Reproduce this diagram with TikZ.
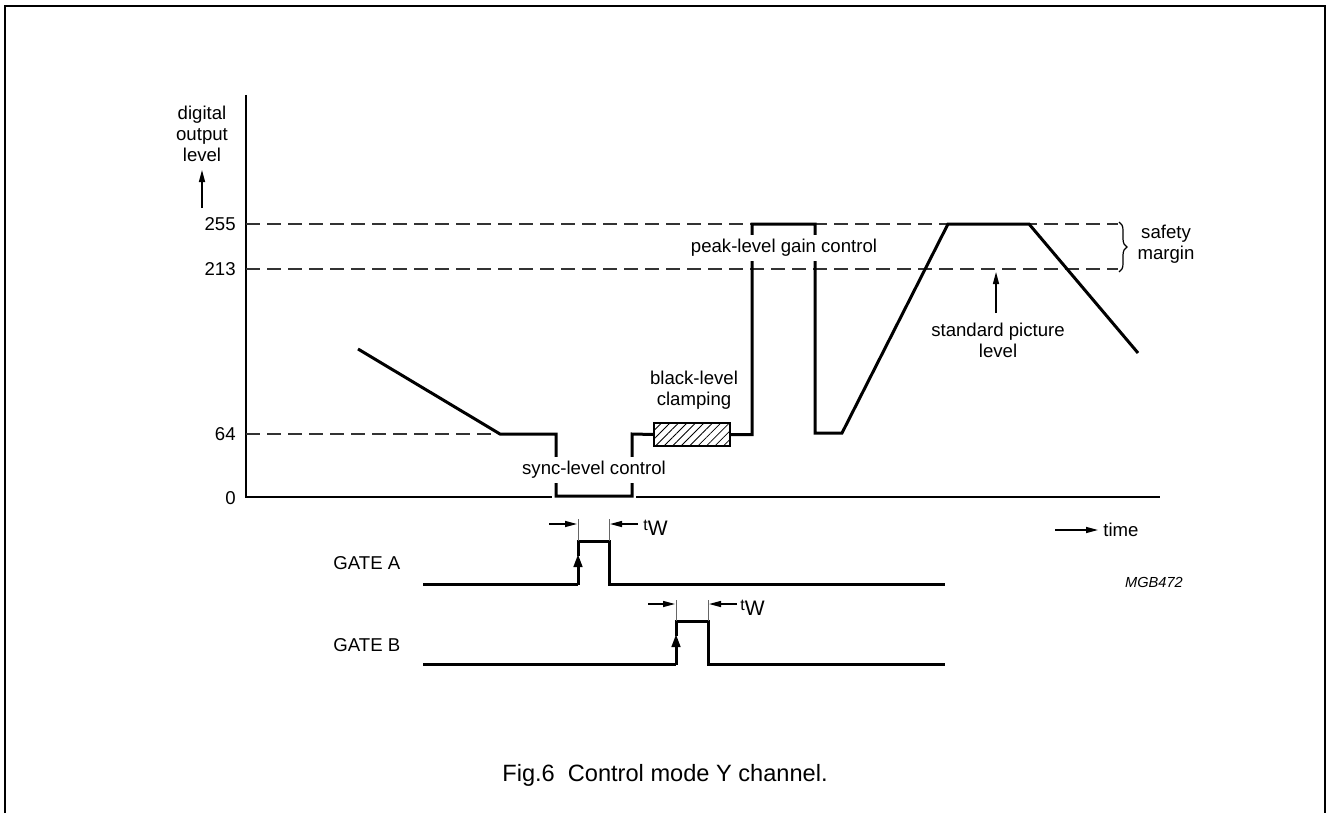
\documentclass[tikz,border=0pt]{standalone}
\usepackage{fontspec}
\setmainfont{Liberation Sans}
\usetikzlibrary{arrows.meta,decorations.pathreplacing,patterns.meta}

\begin{document}
\begin{tikzpicture}[x=0.5pt,y=-0.5pt,
  every node/.style={font=\fontsize{9.3}{10.5}\selectfont,inner sep=0pt},
  frame/.style={line width=1pt},
  axis/.style={line width=1pt},
  level/.style={line width=0.7pt,black!80,dash pattern=on 7pt off 3.5pt},
  signal/.style={line width=1.5pt,line join=miter},
  gatetick/.style={line width=0.5pt,black!60},
  tip/.style={-{Triangle[length=6pt,width=3pt]}},
  edgetip/.style={-{Triangle[length=6.5pt,width=4.2pt]}},
  cut/.style={fill=white,inner sep=2pt},
  clampbox/.style={draw,line width=1pt,minimum width=38pt,minimum height=11.5pt,
    pattern={Lines[angle=45,distance=3pt,line width=0.4pt]}}]

  \useasboundingbox (0,0) rectangle (1326,813);
  % open frame round the figure
  \draw[frame] (5,813) -- (5,6) -- (1325,6) -- (1325,813);

  % axes
  \draw[axis] (246,95) -- (246,497) -- (552,497);
  \draw[axis] (636,497) -- (1160,497);
  \node[align=center] (ylabel) at (202,134) {digital\\output\\level};
  \coordinate (yarrowfoot) at (202,208);
  \coordinate (yarrowtip) at (202,170);
  \draw[tip,line width=0.7pt] (yarrowfoot) -- (yarrowtip);

  % level marks and dashed references
  \node[anchor=east] (l255) at (236,224) {255};
  \node[anchor=east] (l213) at (236,269) {213};
  \node[anchor=east] (l64) at (236,434) {64};
  \node[anchor=east] (l0) at (236,498) {0};
  \draw[level] (246,224) -- (1118,224);
  \draw[level] (246,269) -- (1118,269);
  \draw[level] (246,434) -- (500,434);

  % safety margin brace
  \draw[line width=0.6pt,decorate,decoration={brace,amplitude=4pt}] (1119,222) -- (1119,272);
  \node[align=center] (safety) at (1166,244) {safety\\margin};

  % the video signal
  \node[clampbox] (clamp) at (692,434.5) {};
  \draw[signal] (358,349) -- (500,434) -- (556,434) -- (556,496) -- (632,496) -- (632,434) -- (clamp.west);
  \draw[signal] (clamp.east) -- (752,434.5) -- (752,224) -- (815,224) -- (815,433) -- (842,433)
    -- (948,224) -- (1029,224) -- (1138,353);

  % signal labels
  \node[cut] (sync) at (594,470) {sync-level control};
  \node[cut] (peak) at (784,248) {peak-level gain control};
  \node[align=center] (black) at (694,390) {black-level\\clamping};
  \node[align=center] (standard) at (998,340) {standard picture\\level};
  \draw[tip,line width=0.7pt] (996,313) -- (996,272);

  % time arrow and drawing code
  \coordinate (timefoot) at (1055,530);
  \node[anchor=west] (time) at (1103,530) {time};
  \draw[tip,line width=0.7pt] (timefoot) -- (1098,530);
  \node[font=\fontsize{7.3}{8}\selectfont\itshape] (code) at (1154,582) {MGB472};

  % gate A
  \node[anchor=west] (gatea) at (333,563) {GATE A};
  \draw[signal] (423,584) -- (578,584);
  \draw[signal,edgetip] (578,585) -- (578,554);
  \draw[signal] (578,556) -- (578,541) -- (609,541) -- (609,584) -- (945,584);
  \draw[gatetick] (578,519) -- (578,541);
  \draw[gatetick] (609,519) -- (609,541);
  \draw[tip,line width=0.7pt] (549,524) -- (577,524);
  \draw[tip,line width=0.7pt] (638,524) -- (610,524);
  \node[anchor=west] (twa) at (643,528) {{\fontsize{8}{8}\selectfont t}\raisebox{-0.55ex}{\fontsize{10.5}{11}\selectfont W}};

  % gate B
  \node[anchor=west] (gateb) at (333,645) {GATE B};
  \draw[signal] (423,664) -- (676,664);
  \draw[signal,edgetip] (676,665) -- (676,634);
  \draw[signal] (676,636) -- (676,621) -- (708,621) -- (708,664) -- (945,664);
  \draw[gatetick] (676,600) -- (676,621);
  \draw[gatetick] (708,600) -- (708,621);
  \draw[tip,line width=0.7pt] (648,604) -- (675,604);
  \draw[tip,line width=0.7pt] (737,604) -- (709,604);
  \node[anchor=west] (twb) at (740,608) {{\fontsize{8}{8}\selectfont t}\raisebox{-0.55ex}{\fontsize{10.5}{11}\selectfont W}};

  % caption
  \node[font=\fontsize{11.8}{13}\selectfont] (caption) at (665,775) {Fig.6\ \ Control mode Y channel.};
\end{tikzpicture}
\end{document}
